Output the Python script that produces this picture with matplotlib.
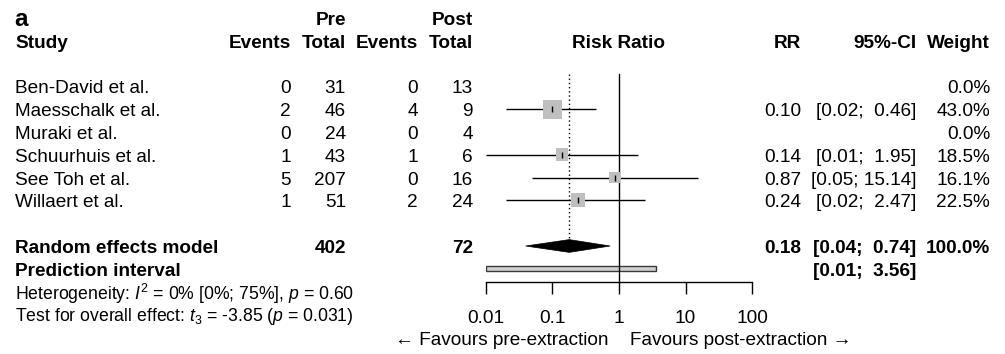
import numpy as np
import matplotlib
matplotlib.use("Agg")
import matplotlib.pyplot as plt
import matplotlib.transforms as mtransforms
from matplotlib.patches import Polygon, Rectangle

plt.rcParams['font.family'] = ['Liberation Sans', 'DejaVu Sans']
plt.rcParams['mathtext.fontset'] = 'custom'
plt.rcParams['mathtext.rm'] = 'Liberation Sans'
plt.rcParams['mathtext.it'] = 'Liberation Sans:italic'
plt.rcParams['mathtext.bf'] = 'Liberation Sans:bold'

# ── data ────────────────────────────────────────────────
studies     = ["Ben-David et al.", "Maesschalk et al.", "Muraki et al.",
               "Schuurhuis et al.", "See Toh et al.", "Willaert et al."]
pre_events  = [0, 2, 0, 1, 5, 1]
pre_total   = [31, 46, 24, 43, 207, 51]
post_events = [0, 4, 0, 1, 0, 2]
post_total  = [13, 9, 4, 6, 16, 24]
rr          = [np.nan, 0.10, np.nan, 0.14, 0.87, 0.24]
ci_lo       = [np.nan, 0.02, np.nan, 0.01, 0.05, 0.02]
ci_hi       = [np.nan, 0.46, np.nan, 1.95, 15.14, 2.47]
weight      = [0.0, 43.0, 0.0, 18.5, 16.1, 22.5]

pooled_rr, pooled_lo, pooled_hi = 0.18, 0.04, 0.74
pred_lo, pred_hi = 0.01, 3.56
sum_pre_total, sum_post_total, sum_weight = 402, 72, 100.0

xticks       = [0.01, 0.1, 1, 10, 100]
xtick_labels = ["0.01", "0.1", "1", "10", "100"]

# ── layout ──────────────────────────────────────────────
W, H = 1005, 354
ROW0, ROWH = 18, 22.8          # pixel y of first row, row height
FS, FS_SMALL, FS_PANEL = 13.7, 12.7, 17.5
TEXT_DY = -2.5                 # nudge text down (px) so glyphs sit centred on rows

study_rows = np.arange(3, 3 + len(studies))
SUM_ROW, PRED_ROW, HET_ROW, TEST_ROW = 10, 11, 12, 13
AXIS_ROW, TICK_ROW, FAV_ROW = 11.58, 13.07, 14.04


def fx(px):
    return px / W


fig = plt.figure(figsize=(W / 100, H / 100), dpi=100)
ax = fig.add_axes([fx(485.5), 0, fx(752.3 - 485.5), 1])
ax.set_xscale('log')
ax.set_xlim(0.01, 100)
ax.set_ylim((H - ROW0) / ROWH, -ROW0 / ROWH)
ax.patch.set_visible(False)
for s in ['top', 'right', 'left']:
    ax.spines[s].set_visible(False)
ax.spines['bottom'].set_position(('data', AXIS_ROW))
ax.spines['bottom'].set_linewidth(1.0)
ax.set_yticks([])
ax.set_xticks(xticks)
ax.tick_params(axis='x', which='major', length=8.6, width=1.0, labelbottom=False)
ax.tick_params(axis='x', which='minor', length=0)

# reference lines
ax.plot([1, 1], [2.45, AXIS_ROW], color='black', lw=1.0)
ax.plot([pooled_rr, pooled_rr], [2.45, SUM_ROW - 0.28], color='black', lw=1.0,
        linestyle=(0, (1, 2)))

# study CIs and squares
ax.hlines(study_rows, ci_lo, ci_hi, color='black', lw=1.0, zorder=2)
ax.scatter(rr, study_rows, s=np.array(weight) * 4.48, marker='s',
           color='#BFBFBF', linewidths=0, zorder=3)
ax.scatter(rr, study_rows, s=18, marker='|', color='black', linewidths=1.0, zorder=4)

# pooled diamond
dh = 0.28
ax.add_patch(Polygon([(pooled_lo, SUM_ROW), (pooled_rr, SUM_ROW - dh),
                      (pooled_hi, SUM_ROW), (pooled_rr, SUM_ROW + dh)],
                     closed=True, facecolor='black', edgecolor='black', lw=0.5))

# prediction interval
ph = 0.11
ax.add_patch(Rectangle((pred_lo, PRED_ROW - ph), pred_hi - pred_lo, 2 * ph,
                       facecolor='#D0D0D0', edgecolor='#3A3A3A', lw=1.0))

# ── text columns ────────────────────────────────────────
tr = mtransforms.offset_copy(
    mtransforms.blended_transform_factory(fig.transFigure, ax.transData),
    fig=fig, y=TEXT_DY, units='dots')


def txt(xpx, row, s, ha='right', bold=False, size=FS):
    fig.text(fx(xpx), row, s, ha=ha, va='center', transform=tr,
             fontsize=size, fontweight='bold' if bold else 'normal')


def atxt(x, row, s, ha='center', dx=0, bold=False):
    ax.text(x, row, s, ha=ha, va='center', fontsize=FS,
            fontweight='bold' if bold else 'normal',
            transform=mtransforms.offset_copy(ax.transData, fig=fig, x=dx,
                                              y=TEXT_DY, units='dots'))


X_STUDY, X_PE, X_PT, X_QE, X_QT = 15, 291, 346, 418, 473
X_RR, X_CI, X_W = 801, 916, 990

# headers
txt(X_STUDY - 1, -0.05, "a", ha='left', bold=True, size=FS_PANEL)
txt(X_PT, 0, "Pre", bold=True)
txt(X_QT, 0, "Post", bold=True)
txt(X_STUDY, 1, "Study", ha='left', bold=True)
for xp, lab in [(X_PE, "Events"), (X_PT, "Total"), (X_QE, "Events"),
                (X_QT, "Total"), (X_RR, "RR"), (X_CI, "95%-CI"), (X_W, "Weight")]:
    txt(xp, 1, lab, bold=True)
atxt(1, 1, "Risk Ratio", bold=True)

# studies
for i, r in enumerate(study_rows):
    txt(X_STUDY, r, studies[i], ha='left')
    txt(X_PE, r, str(pre_events[i]))
    txt(X_PT, r, str(pre_total[i]))
    txt(X_QE, r, str(post_events[i]))
    txt(X_QT, r, str(post_total[i]))
    if not np.isnan(rr[i]):
        txt(X_RR, r, f"{rr[i]:.2f}")
        hi = f"{ci_hi[i]:.2f}"
        pad = "  " if len(hi) < 5 else " "
        txt(X_CI, r, f"[{ci_lo[i]:.2f};{pad}{hi}]")
    txt(X_W, r, f"{weight[i]:.1f}%")

# summary
txt(X_STUDY, SUM_ROW, "Random effects model", ha='left', bold=True)
txt(X_PT, SUM_ROW, str(sum_pre_total), bold=True)
txt(X_QT, SUM_ROW, str(sum_post_total), bold=True)
txt(X_RR, SUM_ROW, f"{pooled_rr:.2f}", bold=True)
txt(X_CI, SUM_ROW, f"[{pooled_lo:.2f};  {pooled_hi:.2f}]", bold=True)
txt(X_W, SUM_ROW, f"{sum_weight:.1f}%", bold=True)
txt(X_STUDY, PRED_ROW, "Prediction interval", ha='left', bold=True)
txt(X_CI, PRED_ROW, f"[{pred_lo:.2f};  {pred_hi:.2f}]", bold=True)

txt(X_STUDY, HET_ROW, r"Heterogeneity: $I^2$ = 0% [0%; 75%], $p$ = 0.60",
    ha='left', size=FS_SMALL)
txt(X_STUDY, TEST_ROW, r"Test for overall effect: $t_3$ = -3.85 ($p$ = 0.031)",
    ha='left', size=FS_SMALL)

# axis labels
for t, lab in zip(xticks, xtick_labels):
    atxt(t, TICK_ROW, lab)
atxt(1, FAV_ROW, "\u2190 Favours pre-extraction", ha='right', dx=-10)
atxt(1, FAV_ROW, "Favours post-extraction \u2192", ha='left', dx=11)

fig.savefig("out.png", dpi=100)
